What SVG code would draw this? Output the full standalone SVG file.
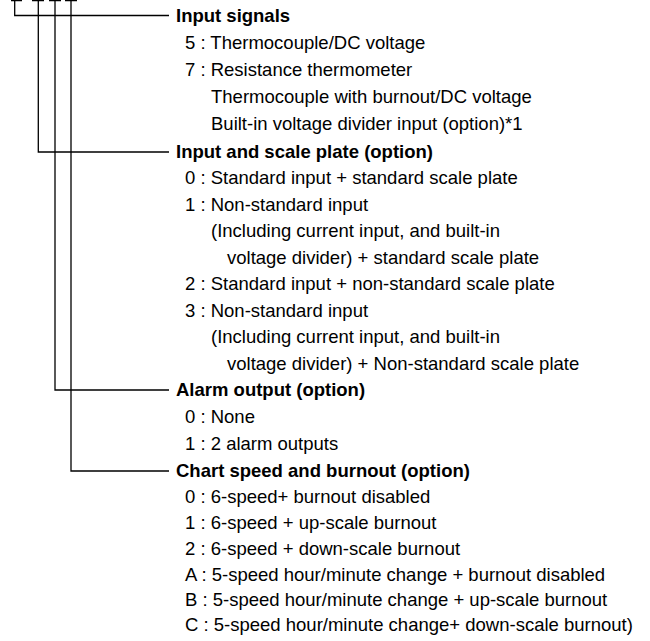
<svg xmlns="http://www.w3.org/2000/svg" width="650" height="641" viewBox="0 0 650 641">
<style>
  text { font-family: "Liberation Sans", Arial, sans-serif; font-size: 18.5px; fill: #000; }
  .h { font-weight: bold; }
  .ln { stroke: #000; stroke-width: 1.3; fill: none; }
</style>
<rect width="650" height="641" fill="#fff"/>
<g id="connectors">
  <path class="ln" d="M11 0.6H22 M32 0.6H44 M49 0.6H61 M65 0.6H77"/>
  <path class="ln" d="M14.7 0V15.5H169"/>
  <path class="ln" d="M38.3 0V152H169"/>
  <path class="ln" d="M55 0V390H169"/>
  <path class="ln" d="M71 0V471H169"/>
</g>
<g id="input-signals">
  <text class="h" x="176" y="21.5">Input signals</text>
  <text x="185" y="48.5">5 : Thermocouple/DC voltage</text>
  <text x="185" y="75.5">7 : Resistance thermometer</text>
  <text x="211" y="102.5">Thermocouple with burnout/DC voltage</text>
  <text x="211" y="129.5">Built-in voltage divider input (option)*1</text>
</g>
<g id="input-scale-plate">
  <text class="h" x="176" y="157.5">Input and scale plate (option)</text>
  <text x="185" y="184">0 : Standard input + standard scale plate</text>
  <text x="185" y="210.5">1 : Non-standard input</text>
  <text x="211" y="237">(Including current input, and built-in</text>
  <text x="227" y="263.5">voltage divider) + standard scale plate</text>
  <text x="185" y="290">2 : Standard input + non-standard scale plate</text>
  <text x="185" y="316.5">3 : Non-standard input</text>
  <text x="211" y="343">(Including current input, and built-in</text>
  <text x="227" y="369.5">voltage divider) + Non-standard scale plate</text>
</g>
<g id="alarm-output">
  <text class="h" x="176" y="395.5">Alarm output (option)</text>
  <text x="185" y="422.5">0 : None</text>
  <text x="185" y="449.5">1 : 2 alarm outputs</text>
</g>
<g id="chart-speed-burnout">
  <text class="h" x="176" y="476.5">Chart speed and burnout (option)</text>
  <text x="185" y="503">0 : 6-speed+ burnout disabled</text>
  <text x="185" y="529">1 : 6-speed + up-scale burnout</text>
  <text x="185" y="555">2 : 6-speed + down-scale burnout</text>
  <text x="185" y="580.5">A : 5-speed hour/minute change + burnout disabled</text>
  <text x="185" y="605.5">B : 5-speed hour/minute change + up-scale burnout</text>
  <text x="185" y="630.5">C : 5-speed hour/minute change+ down-scale burnout)</text>
</g>
</svg>
